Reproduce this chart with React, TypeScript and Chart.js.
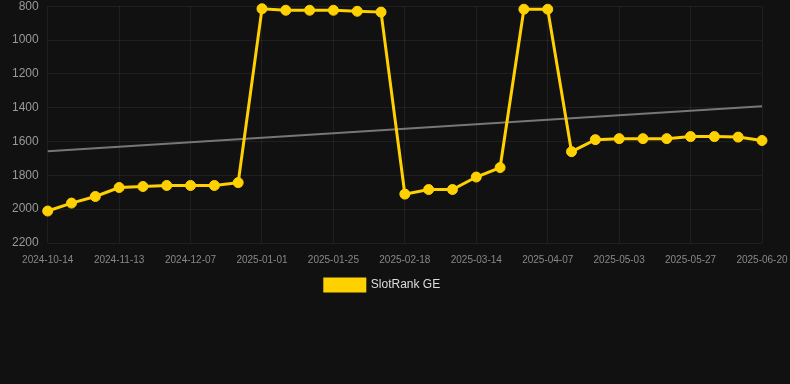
import React, { useEffect, useRef } from "react";
import { Chart, registerables } from "chart.js";

Chart.register(...registerables);

const labels = [
  "2024-10-14", "2024-10-24", "2024-11-03", "2024-11-13", "2024-11-21", "2024-11-29",
  "2024-12-07", "2024-12-15", "2024-12-23", "2025-01-01", "2025-01-09", "2025-01-17",
  "2025-01-25", "2025-02-02", "2025-02-10", "2025-02-18", "2025-02-26", "2025-03-06",
  "2025-03-14", "2025-03-22", "2025-03-30", "2025-04-07", "2025-04-16", "2025-04-25",
  "2025-05-03", "2025-05-11", "2025-05-19", "2025-05-27", "2025-06-04", "2025-06-12",
  "2025-06-20",
];

const rankValues = [
  2011, 1964, 1925, 1872, 1866, 1860, 1860, 1860, 1843, 815, 824, 824, 824, 830, 835,
  1911, 1884, 1884, 1810, 1754, 818, 818, 1660, 1589, 1583, 1583, 1583, 1571, 1571, 1574,
  1594,
];

const trendStart = 1657;
const trendEnd = 1391;
const trendValues: (number | null)[] = labels.map((_, i) =>
  i === 0 ? trendStart : i === labels.length - 1 ? trendEnd : null
);

const yMin = 800;
const yMax = 2200;
const yStep = 200;

export default function App() {
  const ref = useRef<HTMLCanvasElement | null>(null);
  useEffect(() => {
    document.body.style.margin = "0";
    document.body.style.background = "#111111";
    if (!ref.current) return;
    const chart = new Chart(ref.current, {
      type: "line",
      data: {
        labels,
        datasets: [
          {
            label: "SlotRank GE",
            data: rankValues,
            borderColor: "#FFD100",
            backgroundColor: "#FFD100",
            borderWidth: 3,
            pointRadius: 5,
            pointBackgroundColor: "#FFD100",
            pointBorderColor: "#FFD100",
            pointBorderWidth: 1,
            tension: 0,
            clip: false,
          },
          {
            label: "trend",
            data: trendValues,
            borderColor: "#777777",
            backgroundColor: "#777777",
            borderWidth: 2,
            pointRadius: 0,
            spanGaps: true,
          },
        ],
      },
      options: {
        animation: false,
        responsive: false,
        maintainAspectRatio: false,
        layout: { autoPadding: false, padding: { left: 3, right: 28, top: 0, bottom: 0 } },
        plugins: {
          legend: {
            position: "bottom",
            labels: {
              boxWidth: 40,
              boxHeight: 12,
              padding: 2,
              color: "#dddddd",
              font: { family: "Liberation Sans, Arial, sans-serif", size: 12 },
              filter: (item) => item.text === "SlotRank GE",
            },
          },
          tooltip: { enabled: false },
        },
        scales: {
          x: {
            grid: { color: "rgba(255,255,255,0.06)", drawTicks: false, tickLength: 0 },
            border: { display: false },
            afterFit: (scale: any) => {
              scale.paddingRight = 20;
            },
            ticks: {
              color: "#888888",
              font: { family: "Liberation Sans, Arial, sans-serif", size: 10 },
              maxRotation: 0,
              autoSkip: true,
              maxTicksLimit: 11,
              padding: 11,
            },
          },
          y: {
            reverse: true,
            min: yMin,
            max: yMax,
            grid: { color: "rgba(255,255,255,0.06)", drawTicks: false, tickLength: 0 },
            border: { display: false },
            ticks: {
              stepSize: yStep,
              color: "#999999",
              font: { family: "Liberation Sans, Arial, sans-serif", size: 12 },
              padding: 9,
              callback: (v) => String(v),
            },
          },
        },
      },
    });
    return () => chart.destroy();
  }, []);
  return (
    <div style={{ width: 790, height: 384, background: "#111111", overflow: "hidden" }}>
      <canvas ref={ref} width={790} height={311} style={{ display: "block", marginTop: -10 }} />
    </div>
  );
}
